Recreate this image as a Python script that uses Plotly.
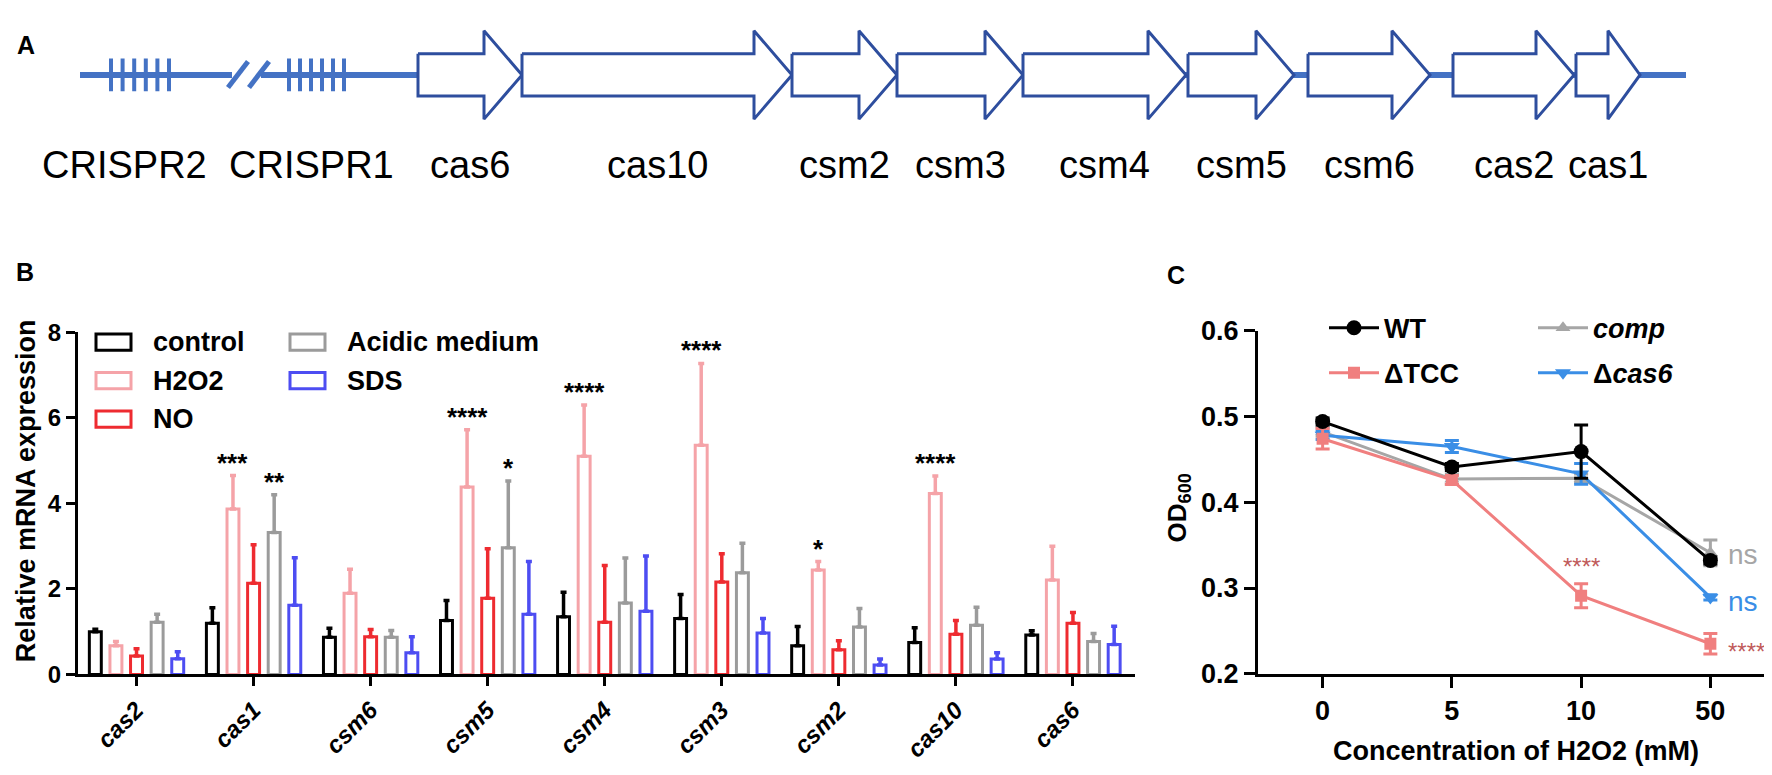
import plotly.graph_objects as go

W, H = 1772, 775
FONT = "Liberation Sans, Arial, sans-serif"

# ---------------- Panel A: gene map (map units) ----------------
gene_names = ["cas6", "cas10", "csm2", "csm3", "csm4", "csm5", "csm6", "cas2", "cas1"]
gene_start = [410, 514, 784, 889, 1015, 1180, 1300, 1445, 1568]
gene_end = [514, 784, 889, 1015, 1178, 1286, 1422, 1566, 1632]
crispr_names = ["CRISPR2", "CRISPR1"]
crispr_start = [103, 281]
crispr_end = [161, 336]
crispr_label_x = [116, 303]
crispr_repeats = [6, 6]
locus_start = 72
locus_end = 1678
break_left = 224
break_right = 253

# ---------------- Panel B: relative mRNA expression ----------------
genes_b = ["cas2", "cas1", "csm6", "csm5", "csm4", "csm3", "csm2", "cas10", "cas6"]
conditions = ["control", "H2O2", "NO", "Acidic medium", "SDS"]
control_mean = [1.00, 1.20, 0.87, 1.26, 1.35, 1.31, 0.67, 0.75, 0.92]
control_sd = [0.06, 0.36, 0.21, 0.47, 0.57, 0.56, 0.45, 0.34, 0.10]
h2o2_mean = [0.67, 3.87, 1.90, 4.38, 5.10, 5.36, 2.44, 4.23, 2.21]
h2o2_sd = [0.10, 0.78, 0.56, 1.34, 1.20, 1.91, 0.20, 0.41, 0.79]
no_mean = [0.43, 2.13, 0.88, 1.78, 1.22, 2.16, 0.58, 0.94, 1.20]
no_sd = [0.17, 0.90, 0.17, 1.16, 1.33, 0.66, 0.21, 0.32, 0.25]
acidic_mean = [1.22, 3.32, 0.87, 2.96, 1.67, 2.38, 1.11, 1.15, 0.77]
acidic_sd = [0.19, 0.88, 0.16, 1.56, 1.05, 0.69, 0.43, 0.42, 0.19]
sds_mean = [0.37, 1.62, 0.51, 1.41, 1.48, 0.97, 0.22, 0.36, 0.70]
sds_sd = [0.16, 1.11, 0.37, 1.23, 1.29, 0.34, 0.14, 0.15, 0.43]
star_gene = ["cas1", "cas1", "csm5", "csm5", "csm4", "csm3", "csm2", "cas10"]
star_cond = ["H2O2", "Acidic medium", "H2O2", "Acidic medium", "H2O2", "H2O2", "H2O2", "H2O2"]
star_text = ["***", "**", "****", "*", "****", "****", "*", "****"]

# ---------------- Panel C: OD600 ----------------
conc = ["0", "5", "10", "50"]
wt_mean = [0.494, 0.441, 0.459, 0.332]
wt_sd = [0.004, 0.004, 0.031, 0.004]
tcc_mean = [0.474, 0.426, 0.291, 0.235]
tcc_sd = [0.012, 0.005, 0.014, 0.012]
comp_mean = [0.482, 0.427, 0.428, 0.341]
comp_sd = [0.005, 0.006, 0.005, 0.015]
dcas6_mean = [0.478, 0.465, 0.433, 0.289]
dcas6_sd = [0.005, 0.007, 0.012, 0.003]

# ---------------- styles ----------------
ARROW = "#2E4E9E"
BACKBONE = "#4472C4"
B_COLORS = ["#000000", "#F5A3A8", "#EE2B30", "#9B9B9B", "#4D4DF2"]
C_WT, C_TCC, C_COMP, C_CAS6 = "#000000", "#F07F7F", "#A6A6A6", "#3A8EE6"
STAR_C = "#C05A5A"


def px(x):
    return x / W


def py(y):
    return 1 - y / H


fig = go.Figure()

# ======== Panel A ========
CY = 54
BODY, HEAD = 22, 46
fig.add_trace(go.Scatter(x=[locus_start, break_left, None, break_right, locus_end],
                         y=[CY, CY, None, CY, CY], mode="lines",
                         line=dict(color=BACKBONE, width=6), xaxis="x3", yaxis="y3",
                         showlegend=False, hoverinfo="skip"))
for bx in (break_left + 6, break_right - 2):
    fig.add_trace(go.Scatter(x=[bx - 10, bx + 10], y=[CY + 13, CY - 14], mode="lines",
                             line=dict(color=BACKBONE, width=5), xaxis="x3", yaxis="y3",
                             showlegend=False, hoverinfo="skip"))
for s, e, n in zip(crispr_start, crispr_end, crispr_repeats):
    xs, ys = [], []
    for k in range(n):
        xk = s + (e - s) * k / (n - 1)
        xs += [xk, xk, None]
        ys += [CY - 17, CY + 17, None]
    fig.add_trace(go.Scatter(x=xs, y=ys, mode="lines", line=dict(color=BACKBONE, width=4),
                             xaxis="x3", yaxis="y3", showlegend=False, hoverinfo="skip"))
for s, e in zip(gene_start, gene_end):
    hl = min(38, (e - s) / 2)
    xs = [s, e - hl, e - hl, e, e - hl, e - hl, s, s]
    ys = [CY - BODY, CY - BODY, CY - HEAD, CY, CY + HEAD, CY + BODY, CY + BODY, CY - BODY]
    fig.add_trace(go.Scatter(x=xs, y=ys, mode="lines", fill="toself", fillcolor="white",
                             line=dict(color=ARROW, width=3), xaxis="x3", yaxis="y3",
                             showlegend=False, hoverinfo="skip"))
annotations = []
for name, s, e in zip(gene_names, gene_start, gene_end):
    annotations.append(dict(x=(s + e) / 2, y=148, xref="x3", yref="y3", text=name,
                            showarrow=False, xanchor="center", yanchor="middle",
                            font=dict(family=FONT, size=38, color="black")))
for name, lx in zip(crispr_names, crispr_label_x):
    annotations.append(dict(x=lx, y=148, xref="x3", yref="y3", text=name,
                            showarrow=False, xanchor="center", yanchor="middle",
                            font=dict(family=FONT, size=38, color="black")))

# ======== Panel B ========
means = [control_mean, h2o2_mean, no_mean, acidic_mean, sds_mean]
sds = [control_sd, h2o2_sd, no_sd, acidic_sd, sds_sd]
for cond, m, sd, col in zip(conditions, means, sds, B_COLORS):
    fig.add_trace(go.Bar(x=genes_b, y=m, name=cond, xaxis="x", yaxis="y",
                         marker=dict(color="white", line=dict(color=col, width=3)),
                         error_y=dict(type="data", array=sd, arrayminus=[0] * len(sd),
                                      symmetric=False, color=col, thickness=3.5, width=3),
                         showlegend=False))
BARGAP = 0.12
slot = (1 - BARGAP) / len(conditions)
for g, c, t in zip(star_gene, star_cond, star_text):
    gi = genes_b.index(g)
    ci = conditions.index(c)
    top = means[ci][gi] + sds[ci][gi]
    annotations.append(dict(x=gi + (ci - 2) * slot, y=top, xref="x", yref="y", text=t,
                            showarrow=False, xanchor="center", yanchor="bottom", yshift=-4,
                            font=dict(family=FONT, size=26, color="black", weight="bold")))
leg_rows = [332, 372, 412, 332, 372]
leg_cols = [88, 88, 88, 282, 282]
shapes = []
for cond, col, ry, cx in zip(conditions, B_COLORS, leg_rows, leg_cols):
    shapes.append(dict(type="rect", xref="paper", yref="paper", x0=px(cx), x1=px(cx + 35),
                       y0=py(ry + 8.5), y1=py(ry - 8.5), line=dict(color=col, width=3),
                       fillcolor="white"))
    annotations.append(dict(x=px(cx + 55), y=py(ry), xref="paper", yref="paper", text=cond,
                            showarrow=False, xanchor="left", yanchor="middle",
                            font=dict(family=FONT, size=27, color="black", weight="bold")))
annotations.append(dict(x=px(18), y=py(487), xref="paper", yref="paper",
                        text="Relative mRNA expression", textangle=-90, showarrow=False,
                        xanchor="center", yanchor="middle",
                        font=dict(family=FONT, size=27, color="black", weight="bold")))

# ======== Panel C ========
series_c = [("comp", comp_mean, comp_sd, C_COMP, "triangle-up", 13, "legend3", 1, "<i>comp</i>"),
            ("dcas6", dcas6_mean, dcas6_sd, C_CAS6, "triangle-down", 14, "legend3", 2, "Δ<i>cas6</i>"),
            ("TCC", tcc_mean, tcc_sd, C_TCC, "square", 12, "legend2", 2, "ΔTCC"),
            ("WT", wt_mean, wt_sd, C_WT, "circle", 15, "legend2", 1, "WT")]
for key, m, sd, col, sym, size, leg, rank, label in series_c:
    fig.add_trace(go.Scatter(x=conc, y=m, name=label, xaxis="x2", yaxis="y2",
                             mode="lines+markers", line=dict(color=col, width=3),
                             marker=dict(symbol=sym, size=size, color=col),
                             error_y=dict(type="data", array=sd, color=col, thickness=3, width=7),
                             legend=leg, legendrank=rank, legendgroup=key, showlegend=True))
annotations.append(dict(x=2, y=tcc_mean[2] + tcc_sd[2], xref="x2", yref="y2", text="****",
                        showarrow=False, xanchor="center", yanchor="bottom", yshift=2,
                        font=dict(family=FONT, size=24, color=STAR_C)))
annotations.append(dict(x=3.12, y=tcc_mean[3], xref="x2", yref="y2", text="****",
                        showarrow=False, xanchor="left", yanchor="middle", yshift=-8,
                        font=dict(family=FONT, size=24, color=STAR_C)))
annotations.append(dict(x=3.12, y=comp_mean[3], xref="x2", yref="y2", text="ns",
                        showarrow=False, xanchor="left", yanchor="middle", yshift=-2,
                        font=dict(family=FONT, size=28, color=C_COMP)))
annotations.append(dict(x=3.12, y=dcas6_mean[3], xref="x2", yref="y2", text="ns",
                        showarrow=False, xanchor="left", yanchor="middle", yshift=-4,
                        font=dict(family=FONT, size=28, color=C_CAS6)))
annotations.append(dict(x=px(1170), y=py(505), xref="paper", yref="paper",
                        text="OD<sub>600</sub>", textangle=-90, showarrow=False,
                        xanchor="center", yanchor="middle",
                        font=dict(family=FONT, size=26, color="black", weight="bold")))
annotations.append(dict(x=px(1508), y=py(757), xref="paper", yref="paper",
                        text="Concentration of H2O2 (mM)", showarrow=False,
                        xanchor="center", yanchor="middle",
                        font=dict(family=FONT, size=27, color="black", weight="bold")))

for letter, lx, ly in (("A", 18, 23), ("B", 17, 259), ("C", 1168, 262)):
    annotations.append(dict(x=px(lx), y=py(ly), xref="paper", yref="paper", text=letter,
                            showarrow=False, xanchor="center", yanchor="middle",
                            font=dict(family=FONT, size=25, color="black", weight="bold")))

axis_common = dict(showline=True, linecolor="black", linewidth=3, ticks="outside",
                   tickcolor="black", tickwidth=3, showgrid=False, zeroline=False)

leg_font = dict(family=FONT, size=27, color="black", weight="bold")
fig.update_layout(
    width=W, height=H, autosize=False,
    margin=dict(l=0, r=0, t=0, b=0),
    paper_bgcolor="white", plot_bgcolor="white",
    barmode="group", bargap=BARGAP, bargroupgap=0.42,
    xaxis=dict(domain=[px(70), px(1127)], anchor="y", type="category",
               range=[-0.5, 8.53], ticklen=9,
               tickangle=-45, tickfont=dict(family=FONT, size=24, color="black",
                                            weight="bold", style="italic"),
               **axis_common),
    yaxis=dict(domain=[py(677.7), py(321.7)], anchor="x", range=[0, 8], dtick=2,
               ticklen=9, tickfont=dict(family=FONT, size=24, color="black", weight="bold"),
               **axis_common),
    xaxis2=dict(domain=[px(1250), px(1767)], anchor="y2", type="category",
                categoryarray=conc, range=[-0.5, 3.5], ticklen=11,
                tickfont=dict(family=FONT, size=27, color="black", weight="bold"),
                **axis_common),
    yaxis2=dict(domain=[py(677), py(320)], anchor="x2", range=[0.2, 0.6], dtick=0.1,
                tickformat=".1f", ticklen=11,
                tickfont=dict(family=FONT, size=27, color="black", weight="bold"),
                **axis_common),
    xaxis3=dict(domain=[0, 1], anchor="y3", range=[0, W], visible=False),
    yaxis3=dict(domain=[py(200), 1], anchor="x3", range=[200, 0], visible=False),
    legend2=dict(x=px(1316), y=py(292), xanchor="left", yanchor="top", font=leg_font,
                 bgcolor="rgba(0,0,0,0)", tracegroupgap=7, itemwidth=50),
    legend3=dict(x=px(1525), y=py(292), xanchor="left", yanchor="top", font=leg_font,
                 bgcolor="rgba(0,0,0,0)", tracegroupgap=7, itemwidth=50),
    shapes=shapes,
    annotations=annotations,
)

fig.write_html("out.html")
